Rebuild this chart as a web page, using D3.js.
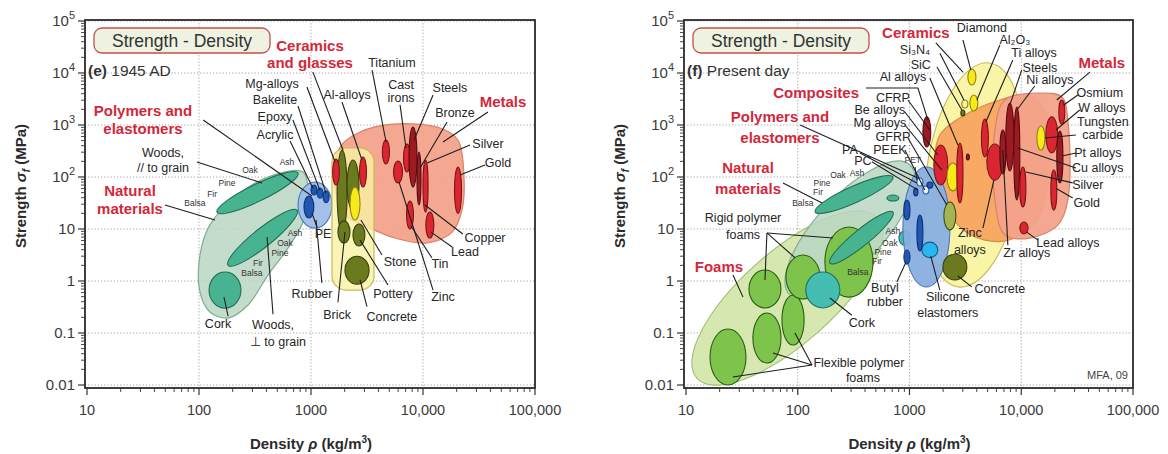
<!DOCTYPE html>
<html>
<head>
<meta charset="utf-8">
<script src="https://cdnjs.cloudflare.com/ajax/libs/d3/7.8.5/d3.min.js"></script>
<style>
  html, body { margin: 0; padding: 0; background: #fff; }
  svg text { font-family: "Liberation Sans", Arial, Helvetica, sans-serif; }
</style>
</head>
<body>
<svg id="chart" width="1168" height="454"></svg>
<script>
// ---------------- axes ----------------
const densityTicks = [10, 100, 1000, 10000, 100000];
const densityTickLabels = ["10", "100", "1000", "10,000", "100,000"];
const strengthTicks = [0.01, 0.1, 1, 10, 100, 1000, 10000, 100000];
const strengthTickBase = ["0.01", "0.1", "1", "10", "10", "10", "10", "10"];
const strengthTickExp = ["", "", "", "", "2", "3", "4", "5"];

// ---------------- (e) 1945 AD ----------------
// envelope outlines: [density kg/m3, strength MPa]
const natural1945Outline = [[849,125],[940,56],[902,18.6],[650,4.9],[413,1.3],[274,0.345],[182,0.194],[125,0.254],[102,0.61],[102,3.16],[125,12],[210,41],[413,100]];
const metals1945Outline = [[1820,378],[2740,733],[5400,1040],[14200,875],[20500,515],[23200,109],[22300,23],[18200,8.7],[10900,5.4],[5620,6.7],[3370,10.4],[2010,18.6],[1600,87]];
const ceramics1945Box = ["Ceramics and glasses", 1540, 3650, 0.67, 361, "ceramic1945"];
const polymers1945Envelope = ["Polymers and elastomers", 766, 1540, 10.4, 80, "polymer1945"];
// tilted bubbles: [name, rho1, sigma1, rho2, sigma2, width ratio, kind]
const woods1945 = [
  ["Woods parallel to grain", 145, 21, 766, 119, 0.19, "wood"],
  ["Woods across grain", 182, 2.0, 750, 23, 0.21, "wood"]
];
// property bubbles: [name, rho min, rho max, sigma min, sigma max, kind]
const bubbles1945 = [
  ["Cork", 123, 237, 0.30, 1.49, "wood"],
  ["PE", 866, 1060, 16.3, 43, "polyDark"],
  ["Acrylic", 1000, 1130, 45, 70, "polyDark"],
  ["Epoxy", 1130, 1280, 39, 61, "polyDark"],
  ["Bakelite", 1280, 1450, 32, 54, "polyDark"],
  ["Glass", 1710, 2100, 8.4, 330, "olive"],
  ["Porcelain", 2100, 2680, 23, 212, "olive"],
  ["Alumina", 2230, 2740, 14.9, 64, "yellow"],
  ["Brick", 1740, 2230, 5.4, 14.3, "olive"],
  ["Stone", 2370, 3030, 4.7, 12.5, "olive"],
  ["Concrete", 2010, 3300, 0.87, 3.0, "olive"],
  ["Mg-alloys", 1560, 1790, 70, 222, "red"],
  ["Al-alloys", 2710, 3130, 64, 243, "red"],
  ["Titanium", 4340, 5020, 178, 515, "red"],
  ["Cast irons", 6700, 7730, 125, 431, "red"],
  ["Zinc", 5460, 6560, 77, 203, "red"],
  ["Steels", 7500, 8840, 64, 915, "darkred"],
  ["Bronze", 8840, 9600, 29, 303, "darkred"],
  ["Silver", 10000, 11100, 21.2, 212, "red"],
  ["Tin", 7130, 8220, 10, 34.5, "red"],
  ["Lead", 10600, 12500, 6.7, 21.2, "red"],
  ["Gold", 19100, 22100, 20, 156, "red"]
];
// labels: [text, rho, sigma, style]
const labels1945 = [
  ["Ceramics", 980, 34500, "cat"], ["and glasses", 980, 15600, "cat"],
  ["Titanium", 5280, 15600, "lbl"],
  ["Cast", 6370, 5880, "lbl"], ["irons", 6370, 3300, "lbl"],
  ["Steels", 17400, 5150, "lbl"],
  ["Metals", 51800, 2770, "cat"],
  ["Bronze", 19300, 1700, "lbl"],
  ["Silver", 38000, 431, "lbl"],
  ["Gold", 46800, 186, "lbl"],
  ["Al-alloys", 2100, 3780, "lbl"],
  ["Mg-alloys", 449, 6140, "lbl"],
  ["Bakelite", 477, 3030, "lbl"],
  ["Epoxy", 477, 1430, "lbl"],
  ["Acrylic", 477, 643, "lbl"],
  ["Polymers and", 31.6, 1940, "cat"], ["elastomers", 31.6, 875, "cat"],
  ["Woods,", 47.7, 290, "lbl"], ["// to grain", 47.7, 149, "lbl"],
  ["Oak", 285, 136, "sm"], ["Ash", 611, 194, "sm"], ["Pine", 178, 77, "sm"], ["Fir", 131, 47, "sm"], ["Balsa", 92, 31.6, "sm"],
  ["Natural", 24.2, 56, "cat"], ["materials", 24.2, 24.3, "cat"],
  ["Ash", 720, 8.4, "sm"], ["Oak", 586, 5.4, "sm"], ["Pine", 528, 3.5, "sm"], ["Fir", 336, 2.2, "sm"], ["Balsa", 297, 1.43, "sm"],
  ["PE", 1280, 8.0, "lbl"],
  ["Rubber", 1020, 0.56, "lbl"],
  ["Brick", 1710, 0.22, "lbl"],
  ["Concrete", 5280, 0.20, "lbl"],
  ["Pottery", 5400, 0.56, "lbl"],
  ["Stone", 6240, 2.3, "lbl"],
  ["Tin", 14200, 2.1, "lbl"],
  ["Zinc", 15100, 0.49, "lbl"],
  ["Lead", 23700, 3.6, "lbl"],
  ["Copper", 35800, 6.7, "lbl"],
  ["Cork", 148, 0.149, "lbl"],
  ["Woods,", 458, 0.143, "lbl"], ["\u22A5 to grain", 507, 0.067, "lbl"]
];
// leader lines: list of [rho, sigma] points
const leaders1945 = [
  [[1040,10400],[1930,330]],
  [[3510,11400],[4680,471]],
  [[6240,2430],[7050,361]],
  [[12300,3780],[8320,515]],
  [[38000,1780],[15100,471]],
  [[16400,1140],[9400,149]],
  [[26300,412],[10900,186]],
  [[35800,170],[21400,109]],
  [[1890,2770],[2850,212]],
  [[920,5380],[1640,194]],
  [[766,2320],[1360,49]],
  [[690,1250],[1200,56]],
  [[650,492],[1040,61]],
  [[109,1250],[1020,43]],
  [[96,194],[365,77]],
  [[49.7,29],[139,14.9]],
  [[1130,10.9],[1020,20.3]],
  [[1250,0.92],[1110,14.9]],
  [[1740,0.39],[2010,8.7]],
  [[3160,0.32],[2740,1.05]],
  [[4870,0.84],[2740,6.1]],
  [[4300,3.16],[2790,14.9]],
  [[12000,2.8],[7820,11.4]],
  [[12300,0.67],[6110,80]],
  [[18200,4.5],[11800,8.7]],
  [[22700,8.0],[10400,29]],
  [[182,0.21],[167,0.49]],
  [[458,0.23],[405,7.0]]
];

// ---------------- (f) Present day ----------------
const foamsEnvelope = ["Foams", 12.5, 0.0136, 521, 16.3, 0.38, "foamEnv"];
const naturalEnvelope = ["Natural materials", 85.1, 0.54, 1010, 170, 0.38, "natural"];
const ceramicsEnvelope = ["Ceramics", 5240, 15600, 2710, 0.77, 0.42, "ceramic"];
const polymersEnvelope = ["Polymers and elastomers", 873, 2300, 0.77, 156, "polymer"];
const metalsOrangeOutline = [[1870,643],[3130,1560],[6440,3030],[11900,3780],[16300,1940],[18000,212],[14700,18.6],[8770,6.7],[4720,6.1],[2710,11.9],[1950,45],[1690,212]];
const metalsPinkOutline = [[7130,3030],[14700,4120],[23100,3450],[26100,1250],[26100,36],[21200,11.9],[11900,6.7],[7130,7.7],[5810,36],[5810,800]];
const foamBubbles = [
  ["Flexible foam, low density", 16.4, 34.4, 0.01, 0.119, "foam"],
  ["Flexible foam, mid density", 39.7, 70.8, 0.0265, 0.243, "foam"],
  ["Flexible foam, high density", 72.2, 114, 0.0588, 0.538, "foam"],
  ["Rigid foam, low density", 36.6, 70.8, 0.303, 1.63, "foam"],
  ["Rigid foam, mid density", 78.4, 158, 0.45, 3.16, "foam"],
  ["Rigid foam, high density", 175, 471, 0.49, 10.9, "foam"]
];
const woodsToday = [
  ["Woods parallel to grain", 143, 21.2, 711, 100, 0.19, "wood"],
  ["Woods across grain", 194, 2.2, 711, 21.2, 0.2, "wood"]
];
const naturalBubbles = [
  ["Cork", 118, 238, 0.303, 1.49, "cork"],
  ["Bamboo", 628, 804, 34.5, 45, "wood"],
  ["Ash", 804, 1030, 4.9, 9.2, "cork"]
];
const polymerBubbles = [
  ["Butyl rubber", 891, 1010, 2.1, 3.95, "polyDark"],
  ["Silicone elastomers", 1290, 1790, 2.8, 5.6, "silicone"],
  ["PP", 891, 1010, 14.9, 36, "polyDark"],
  ["PTFE", 1165, 1318, 3.8, 18.6, "polyDark"],
  ["PA", 1165, 1318, 67, 95.7, "polyLight"],
  ["PC", 1318, 1490, 47, 67, "polyLight"],
  ["PEEK", 1430, 1620, 61, 80, "polyDark"],
  ["PET", 1090, 1190, 43, 61, "polyDark"]
];
const hardBubbles = [
  ["Diamond", 3330, 3930, 5880, 11900, "yellow"],
  ["Al2O3", 3470, 4090, 1860, 3780, "yellow"],
  ["Si3N4", 2940, 3330, 2120, 3030, "yellowLight"],
  ["SiC", 2880, 3130, 1490, 1940, "olive"],
  ["CFRP", 1318, 1550, 378, 1430, "darkred"],
  ["Be alloys", 1650, 2200, 70, 412, "red"],
  ["Glass", 2160, 2770, 54, 186, "yellow"],
  ["Al alloys", 2650, 3010, 31.6, 451, "red"],
  ["GFRP", 2030, 2600, 9.6, 33, "oliveLight"],
  ["Concrete", 1990, 3260, 1.05, 3.3, "olive"],
  ["Ti alloys", 4400, 5080, 243, 1300, "red"],
  ["Zinc alloys", 4920, 6840, 87, 431, "red"],
  ["Zr alloys", 6440, 7280, 114, 800, "darkred"],
  ["Steels", 7280, 8590, 130, 2650, "darkred"],
  ["Ni alloys", 8590, 9710, 36, 2220, "darkred"],
  ["Silver", 9710, 11000, 26.5, 156, "red"],
  ["Tungsten carbide", 13800, 16300, 330, 957, "yellow"],
  ["W alloys", 16600, 21200, 290, 1430, "red"],
  ["Gold", 18400, 20800, 23, 136, "red"],
  ["Osmium", 21700, 24500, 1040, 3030, "red"],
  ["Pt alloys", 20800, 23600, 77, 767, "darkred"],
  ["Lead alloys", 9710, 11500, 8.0, 13.6, "red"],
  ["Mg alloys", 3230, 3430, 212, 277, "darkred"]
];
const labelsToday = [
  ["Ceramics", 1140, 58800, "cat"],
  ["Diamond", 4440, 73300, "lbl"],
  ["Al\u2082O\u2083", 8770, 43100, "lbl"],
  ["Si\u2083N\u2084", 1120, 27700, "lbl"],
  ["Ti alloys", 13000, 24300, "lbl"],
  ["SiC", 1260, 14300, "lbl"],
  ["Steels", 14700, 12500, "lbl"],
  ["Al alloys", 873, 8380, "lbl"],
  ["Ni alloys", 18000, 7330, "lbl"],
  ["Metals", 52600, 15600, "cat"],
  ["Composites", 146, 4310, "cat"],
  ["CFRP", 711, 3300, "lbl"],
  ["Be alloys", 543, 1940, "lbl"],
  ["Mg alloys", 543, 1090, "lbl"],
  ["GFRP", 711, 587, "lbl"],
  ["PEEK", 668, 330, "lbl"],
  ["PET", 1070, 212, "sm"],
  ["PA", 293, 330, "lbl"],
  ["PC", 383, 203, "lbl"],
  ["Polymers and", 69.3, 1430, "cat"], ["elastomers", 69.3, 587, "cat"],
  ["Ash", 339, 119, "sm"], ["Oak", 229, 109, "sm"], ["Pine", 165, 77, "sm"], ["Fir", 152, 51.5, "sm"], ["Balsa", 111, 31.6, "sm"],
  ["Natural", 35.9, 149, "cat"], ["materials", 35.9, 61, "cat"],
  ["Ash", 711, 9.2, "sm"], ["Oak", 668, 5.4, "sm"], ["Pine", 578, 3.6, "sm"], ["Fir", 511, 2.4, "sm"], ["Balsa", 345, 1.49, "sm"],
  ["Rigid polymer", 32.4, 16.3, "lbl"], ["foams", 32.4, 7.7, "lbl"],
  ["Foams", 19.7, 1.86, "cat"],
  ["Cork", 375, 0.156, "lbl"],
  ["Flexible polymer", 353, 0.0265, "lbl"], ["foams", 383, 0.0136, "lbl"],
  ["Butyl", 603, 0.73, "lbl"], ["rubber", 603, 0.39, "lbl"],
  ["Silicone", 2200, 0.49, "lbl"], ["elastomers", 2200, 0.24, "lbl"],
  ["Concrete", 6440, 0.70, "lbl"],
  ["Zinc", 3470, 8.4, "lbl"], ["alloys", 3470, 3.95, "lbl"],
  ["Zr alloys", 11200, 3.45, "lbl"],
  ["Lead alloys", 26100, 5.4, "lbl"],
  ["Osmium", 50500, 4120, "lbl"],
  ["W alloys", 52600, 2120, "lbl"],
  ["Tungsten", 53700, 1140, "lbl"], ["carbide", 53700, 643, "lbl"],
  ["Pt alloys", 48400, 290, "lbl"],
  ["Cu alloys", 48400, 149, "lbl"],
  ["Silver", 39400, 70, "lbl"],
  ["Gold", 38600, 31.6, "lbl"]
];
const leadersToday = [
  [[1720,37800],[3010,10400]],
  [[3010,43100],[3540,11400]],
  [[6440,34500],[4010,3030]],
  [[1870,24000],[3070,3030]],
  [[8410,17800],[4820,1140]],
  [[1760,13000],[2940,1940]],
  [[10100,11400],[7910,2430]],
  [[1520,8020],[2710,412]],
  [[13200,5620],[9140,1940]],
  [[41100,10400],[20800,3030]],
  [[407,5150],[1190,5150],[1460,1250]],
  [[968,3030],[1520,800]],
  [[910,1780],[1790,265]],
  [[910,1000],[1950,136]],
  [[968,562],[2160,29]],
  [[910,330],[1370,56]],
  [[1120,156],[1165,87]],
  [[360,290],[1165,77]],
  [[461,196],[1190,56]],
  [[105,1000],[1190,96]],
  [[73.8,77],[165,31.6]],
  [[53,8.4],[50.9,1.05]], [[53,8.4],[94.4,2.8]], [[53,8.4],[206,6.7]],
  [[26.3,1.3],[32.4,0.49]],
  [[305,0.22],[194,0.47]],
  [[134,0.0243],[26.3,0.0143]], [[134,0.0243],[60,0.0412]], [[134,0.0243],[94.4,0.1]],
  [[771,0.96],[929,2.3]],
  [[1870,0.67],[1550,3.0]],
  [[3610,0.77],[2710,1.25]],
  [[4540,10.4],[5690,87]],
  [[7590,4.9],[6840,330]],
  [[14100,6.1],[11200,8.7]],
  [[32100,3780],[24000,2430]],
  [[33400,1940],[20400,800]],
  [[30800,643],[16300,562]],
  [[30800,290],[23100,254]],
  [[30800,149],[9330,361]],
  [[28900,77],[11000,125]],
  [[28900,39.5],[20400,61]]
];

// ---------------- styles ----------------
const kindStyles = {
  natural:     { fill: "#b9d6c3", stroke: "#7eab93", opacity: 0.85 },
  foamEnv:     { fill: "#d4e7ab", stroke: "#9fbf6e", opacity: 0.95 },
  polymer:     { fill: "#88afe0", stroke: "#4a78b8", opacity: 0.95 },
  polymer1945: { fill: "#9dbde9", stroke: "#4a78b8", opacity: 0.95 },
  ceramic:     { fill: "#faf3a2", stroke: "#c9b953", opacity: 0.95 },
  ceramic1945: { fill: "#f9f3a4", stroke: "#c9b953", opacity: 0.8 },
  metalPink:   { fill: "#f3a28b", stroke: "#d9826a", opacity: 0.95 },
  metalOrange: { fill: "#f8a560", stroke: "#d98a4a", opacity: 0.95 },
  wood:        { fill: "#47b391", stroke: "#226f55" },
  cork:        { fill: "#45bdb0", stroke: "#1f6f66" },
  foam:        { fill: "#7ec44c", stroke: "#2c5e12" },
  polyDark:    { fill: "#2157b0", stroke: "#0d3275" },
  polyLight:   { fill: "#eef4fb", stroke: "#2157b0" },
  silicone:    { fill: "#2cb6ef", stroke: "#0f5c86" },
  olive:       { fill: "#6b7a1e", stroke: "#36400c" },
  oliveLight:  { fill: "#a4b452", stroke: "#3f4c10" },
  yellow:      { fill: "#f6eb18", stroke: "#8f8210" },
  yellowLight: { fill: "#f8f3a0", stroke: "#8f8210" },
  red:         { fill: "#da2630", stroke: "#7e1418" },
  darkred:     { fill: "#9c1b22", stroke: "#560c10" }
};
const labelStyles = {
  cat: { size: 15, weight: "bold", fill: "#d2283a" },
  lbl: { size: 12.5, weight: "normal", fill: "#262626" },
  sm:  { size: 8.5, weight: "normal", fill: "#333" }
};

const svg = d3.select("#chart");
const yRange = [385, 21];

function styled(sel, kind, sw) {
  const s = kindStyles[kind];
  return sel.attr("fill", s.fill).attr("stroke", s.stroke)
    .attr("stroke-width", sw || 1.1).attr("fill-opacity", s.opacity || 1);
}

function drawPanel(cfg) {
  const g = svg.append("g");
  const x = d3.scaleLog().domain([10, 1e5]).range(cfg.xRange);
  const y = d3.scaleLog().domain([0.01, 1e5]).range(yRange);
  const [x0, x1] = cfg.xRange;

  // dotted decade grid
  g.append("g").selectAll("line.vx").data(densityTicks.slice(1, -1)).join("line")
    .attr("x1", d => x(d)).attr("x2", d => x(d)).attr("y1", 20).attr("y2", 387)
    .attr("stroke", "#9a9a9a").attr("stroke-width", 0.9).attr("stroke-dasharray", "1.2,2");
  g.append("g").selectAll("line.hy").data(strengthTicks).join("line")
    .attr("x1", x0 - 2).attr("x2", x1).attr("y1", d => y(d)).attr("y2", d => y(d))
    .attr("stroke", "#9a9a9a").attr("stroke-width", 0.9).attr("stroke-dasharray", "1.2,2");

  const ellipseFromBox = (sel, data) => sel.selectAll(null).data(data).join("ellipse")
    .attr("cx", d => (x(d[1]) + x(d[2])) / 2).attr("cy", d => (y(d[3]) + y(d[4])) / 2)
    .attr("rx", d => Math.abs(x(d[2]) - x(d[1])) / 2).attr("ry", d => Math.abs(y(d[3]) - y(d[4])) / 2)
    .each(function (d) { styled(d3.select(this), d[5]); });

  const tilted = (sel, data) => sel.selectAll(null).data(data).join("ellipse")
    .each(function (d) {
      const [, r1, s1, r2, s2, ratio, kind] = d;
      const ax = x(r1), ay = y(s1), bx = x(r2), by = y(s2);
      const cx = (ax + bx) / 2, cy = (ay + by) / 2;
      const a = Math.hypot(bx - ax, by - ay) / 2;
      const ang = Math.atan2(by - ay, bx - ax) * 180 / Math.PI;
      styled(d3.select(this).attr("cx", cx).attr("cy", cy).attr("rx", a).attr("ry", a * ratio)
        .attr("transform", `rotate(${ang},${cx},${cy})`), kind);
    });

  const outline = d3.line().curve(d3.curveCatmullRomClosed.alpha(0.5)).x(p => x(p[0])).y(p => y(p[1]));
  const leaderLine = d3.line().x(p => x(p[0])).y(p => y(p[1]));

  const marks = g.append("g");
  cfg.layers.forEach(L => {
    const lg = marks.append("g");
    if (L.type === "outline") styled(lg.append("path").attr("d", outline(L.data)), L.kind, 1.2);
    if (L.type === "box") {
      const d = L.data;
      styled(lg.append("rect").attr("x", x(d[1])).attr("y", y(d[4]))
        .attr("width", x(d[2]) - x(d[1])).attr("height", y(d[3]) - y(d[4]))
        .attr("rx", 14).attr("ry", 14), d[5], 1.2);
    }
    if (L.type === "ellipse") ellipseFromBox(lg, L.data);
    if (L.type === "tilted") tilted(lg, L.data);
  });

  // leader lines
  g.append("g").selectAll("path").data(cfg.leaders).join("path")
    .attr("d", d => leaderLine(d)).attr("fill", "none")
    .attr("stroke", "#1e1e1e").attr("stroke-width", 1.1);

  // labels
  g.append("g").selectAll("text").data(cfg.labels).join("text")
    .attr("x", d => x(d[1])).attr("y", d => y(d[2]))
    .attr("text-anchor", "middle").attr("dominant-baseline", "central")
    .attr("font-size", d => labelStyles[d[3]].size)
    .attr("font-weight", d => labelStyles[d[3]].weight)
    .attr("fill", d => labelStyles[d[3]].fill)
    .text(d => d[0]);

  // frame
  g.append("rect").attr("x", x0 - 2).attr("y", 20).attr("width", x1 - x0 + 2).attr("height", 368)
    .attr("fill", "none").attr("stroke", "#2b2b2b").attr("stroke-width", 1.8);

  // y ticks
  const minorY = [], minorX = [];
  for (let e = -2; e < 5; e++) for (let k = 2; k < 10; k++) minorY.push(k * Math.pow(10, e));
  for (let e = 1; e < 5; e++) for (let k = 2; k < 10; k++) minorX.push(k * Math.pow(10, e));
  g.append("g").selectAll("line").data(minorY).join("line")
    .attr("x1", x0 - 2).attr("x2", x0 - 6).attr("y1", d => y(d)).attr("y2", d => y(d))
    .attr("stroke", "#333").attr("stroke-width", 0.9);
  g.append("g").selectAll("line").data(strengthTicks).join("line")
    .attr("x1", x0 - 2).attr("x2", x0 - 9).attr("y1", d => y(d)).attr("y2", d => y(d))
    .attr("stroke", "#333").attr("stroke-width", 1.2);
  const yl = g.append("g").selectAll("text").data(strengthTicks).join("text")
    .attr("x", x0 - 12).attr("y", d => y(d) + 5).attr("text-anchor", "end")
    .attr("font-size", 15).attr("fill", "#3a3a3a");
  yl.append("tspan").text((d, i) => strengthTickBase[i]);
  yl.append("tspan").attr("dy", -7).attr("font-size", 11).text((d, i) => strengthTickExp[i]);

  // x ticks
  g.append("g").selectAll("line").data(minorX).join("line")
    .attr("x1", d => x(d)).attr("x2", d => x(d)).attr("y1", 388).attr("y2", 392)
    .attr("stroke", "#333").attr("stroke-width", 0.9);
  g.append("g").selectAll("line").data(densityTicks).join("line")
    .attr("x1", d => x(d)).attr("x2", d => x(d)).attr("y1", 388).attr("y2", 395)
    .attr("stroke", "#333").attr("stroke-width", 1.2);
  g.append("g").selectAll("text").data(densityTicks).join("text")
    .attr("x", d => x(d)).attr("y", 415).attr("text-anchor", "middle")
    .attr("font-size", 14.5).attr("fill", "#3a3a3a")
    .text((d, i) => densityTickLabels[i]);

  // axis titles
  const xt = g.append("text").attr("x", (x0 + x1) / 2).attr("y", 449)
    .attr("text-anchor", "middle").attr("font-size", 15).attr("font-weight", "bold").attr("fill", "#2b2b2b");
  xt.append("tspan").text("Density ");
  xt.append("tspan").attr("font-style", "italic").text("\u03C1");
  xt.append("tspan").text(" (kg/m");
  xt.append("tspan").attr("dy", -6).attr("font-size", 10).text("3");
  xt.append("tspan").attr("dy", 6).text(")");

  const yt = g.append("text").attr("transform", `translate(${x0 - 61},186) rotate(-90)`)
    .attr("text-anchor", "middle").attr("font-size", 15).attr("font-weight", "bold").attr("fill", "#2b2b2b");
  yt.append("tspan").text("Strength ");
  yt.append("tspan").attr("font-style", "italic").text("\u03C3");
  yt.append("tspan").attr("dy", 4).attr("font-size", 10).attr("font-style", "italic").text("f");
  yt.append("tspan").attr("dy", -4).text(" (MPa)");

  // title box and panel caption
  g.append("rect").attr("x", x0 + 7).attr("y", 28).attr("width", 176).attr("height", 25)
    .attr("rx", 8).attr("fill", "#eef2e0").attr("stroke", "#c0504d").attr("stroke-width", 1.3);
  g.append("text").attr("x", x0 + 95).attr("y", 47).attr("text-anchor", "middle")
    .attr("font-size", 17.5).attr("fill", "#333").text("Strength - Density");
  const cap = g.append("text").attr("x", x0 + 1).attr("y", 76).attr("font-size", 15.5).attr("fill", "#333");
  cap.append("tspan").attr("font-weight", "bold").text(cfg.tag);
  cap.append("tspan").text(" " + cfg.caption);

  if (cfg.credit) {
    g.append("text").attr("x", x1 - 5).attr("y", 379).attr("text-anchor", "end")
      .attr("font-size", 11).attr("fill", "#444").text(cfg.credit);
  }
}

drawPanel({
  xRange: [87, 535], tag: "(e)", caption: "1945 AD",
  layers: [
    { type: "outline", data: natural1945Outline, kind: "natural" },
    { type: "tilted", data: woods1945 },
    { type: "ellipse", data: [polymers1945Envelope] },
    { type: "outline", data: metals1945Outline, kind: "metalPink" },
    { type: "box", data: ceramics1945Box },
    { type: "ellipse", data: bubbles1945 }
  ],
  labels: labels1945, leaders: leaders1945
});

drawPanel({
  xRange: [686, 1133], tag: "(f)", caption: "Present day", credit: "MFA, 09",
  layers: [
    { type: "tilted", data: [foamsEnvelope] },
    { type: "tilted", data: [naturalEnvelope] },
    { type: "ellipse", data: foamBubbles },
    { type: "tilted", data: woodsToday },
    { type: "ellipse", data: naturalBubbles },
    { type: "tilted", data: [ceramicsEnvelope] },
    { type: "outline", data: metalsOrangeOutline, kind: "metalOrange" },
    { type: "outline", data: metalsPinkOutline, kind: "metalPink" },
    { type: "ellipse", data: [polymersEnvelope] },
    { type: "ellipse", data: polymerBubbles },
    { type: "ellipse", data: hardBubbles }
  ],
  labels: labelsToday, leaders: leadersToday
});
</script>
</body>
</html>
